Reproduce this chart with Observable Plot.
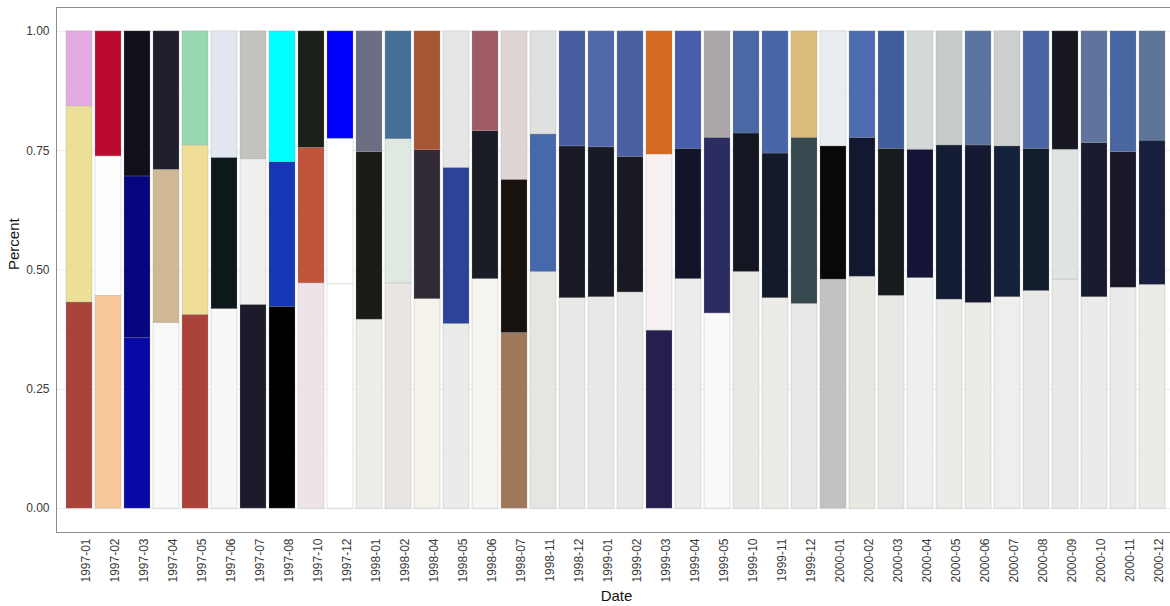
<!DOCTYPE html>
<html>
<head>
<meta charset="utf-8">
<script src="https://cdn.jsdelivr.net/npm/d3@7"></script>
<script src="https://cdn.jsdelivr.net/npm/@observablehq/plot@0.6"></script>
<style>
  html, body { margin: 0; padding: 0; background: #fff; overflow: hidden; }
  #wrap { width: 1170px; height: 606px; overflow: hidden; }
  #wrap svg { max-width: none !important; display: block; }
</style>
</head>
<body>
<div id="wrap"></div>
<script>
const dates = ["1997-01","1997-02","1997-03","1997-04","1997-05","1997-06","1997-07","1997-08","1997-10","1997-12",
  "1998-01","1998-02","1998-04","1998-05","1998-06","1998-07","1998-11","1998-12",
  "1999-01","1999-02","1999-03","1999-04","1999-05","1999-10","1999-11","1999-12",
  "2000-01","2000-02","2000-03","2000-04","2000-05","2000-06","2000-07","2000-08","2000-09","2000-10","2000-11","2000-12"];

const bottomShare = [.432,.446,.357,.389,.406,.418,.427,.423,.472,.470,
  .396,.472,.439,.387,.481,.368,.496,.441,
  .443,.453,.373,.481,.409,.496,.441,.429,
  .480,.486,.446,.483,.438,.431,.443,.456,.480,.443,.463,.469];
const middleShare = [.411,.292,.339,.321,.355,.317,.305,.303,.284,.305,
  .351,.302,.312,.327,.310,.321,.288,.318,
  .314,.284,.369,.273,.368,.290,.303,.348,
  .279,.291,.308,.269,.323,.330,.316,.298,.272,.323,.284,.302];
const topShare = [.157,.262,.304,.290,.239,.265,.268,.274,.244,.225,
  .253,.226,.249,.286,.209,.311,.216,.241,
  .243,.263,.258,.246,.223,.214,.256,.223,
  .241,.223,.246,.248,.239,.239,.241,.246,.248,.234,.253,.229];

const bottomColor = ["#ab433b","#f8c89b","#0808a4","#f8f9f9","#ab433b","#f7f7f6","#1b1b2b","#000000","#ede3e8","#ffffff",
  "#efedea","#e9e5e3","#f5f2ec","#ebebea","#f6f5f2","#a0785b","#e5e5e1","#e9e9e8",
  "#e8e8e8","#e8e8e7","#251f4e","#ececec","#f9f9f9","#e8e9e4","#ebebe8","#e7e8e9",
  "#c2c2c2","#e9e7e1","#e8e8e4","#eef0ef","#ecebe8","#ecebe8","#eeeeed","#e9e9e7","#e8e8e6","#ecebe9","#ecebea","#ebebe8"];
const middleColor = ["#ecdf98","#fdfdfd","#05057f","#cfb893","#f0de98","#0c181c","#efefed","#1636b5","#c0553c","#ffffff",
  "#1c1b17","#e0e8e2","#322a35","#2b4499","#1a1c26","#18120f","#4769ac","#1a1a26",
  "#191a28","#191923","#f7f1f1","#13142b","#2b2d62","#141722","#131a2a","#35494f",
  "#080808","#111830","#161c1e","#141438","#141d33","#151a32","#15223b","#141d2e","#e0e4e0","#191b30","#1b1728","#18203e"];
const topColor = ["#e2aae0","#bb0a30","#100f1a","#221e2e","#96d8b0","#e1e8f2","#c3c3bd","#00ffff","#1b201b","#0000ff",
  "#6c6e84","#466e96","#a75634","#e6e6e6","#9f5c66","#ded5d4","#dfe1e1","#4a5da2",
  "#5169aa","#4c5fa3","#d56b21","#465eab","#aca7ab","#4a69a4","#4866a8","#dabb7a",
  "#e9ecf0","#4e6db0","#405e9d","#d3d9d9","#c7cbcb","#5c75a0","#cdcfcf","#4a66a2","#171722","#5e749d","#4866a1","#5e7499"];

const yTicks = [0, 0.25, 0.5, 0.75, 1];
const yMinor = [0.125, 0.375, 0.625, 0.875];

const rows = [];
dates.forEach((d, i) => {
  rows.push({date: d, seg: "bottom", value: bottomShare[i], color: bottomColor[i]});
  rows.push({date: d, seg: "middle", value: middleShare[i], color: middleColor[i]});
  rows.push({date: d, seg: "top", value: topShare[i], color: topColor[i]});
});

const chart = Plot.plot({
  width: 1186,
  height: 606,
  marginLeft: 56,
  marginRight: 10,
  marginTop: 7,
  marginBottom: 74,
  style: {fontFamily: "'Liberation Sans', Arial, sans-serif", background: "#fff", maxWidth: "none"},
  x: {type: "band", domain: dates, paddingInner: 0.1, paddingOuter: 0.15, axis: null},
  y: {domain: [-0.05, 1.05], axis: null},
  color: {type: "identity"},
  marks: [
    Plot.gridY(yMinor, {stroke: "#f3f3f3", strokeOpacity: 1, strokeWidth: 0.6}),
    Plot.gridY(yTicks, {stroke: "#ebebeb", strokeOpacity: 1, strokeWidth: 1}),
    Plot.barY(rows, {x: "date", y: "value", fill: "color", stroke: "#999", strokeOpacity: 0.45, strokeWidth: 0.6}),
    Plot.frame({stroke: "#8c8c8c", strokeWidth: 1}),
    Plot.axisY(yTicks, {tickSize: 0, tickPadding: 7, tickFormat: d3.format(".2f"), fontSize: 12, fill: "#3a3a3a", label: null}),
    Plot.text(dates, {x: d => d, frameAnchor: "bottom", rotate: -90, textAnchor: "end", lineAnchor: "top",
      dy: 6, dx: 2, fontSize: 12, fill: "#3a3a3a"}),
    Plot.text(["Percent"], {frameAnchor: "left", dx: -42, rotate: -90, fontSize: 15, fill: "#111"}),
    Plot.text(["Date"], {frameAnchor: "bottom", dy: 68, fontSize: 15, fill: "#111"})
  ]
});
chart.style.maxWidth = "none";
chart.style.width = "1186px";
chart.style.height = "606px";

document.getElementById("wrap").appendChild(chart);
</script>
</body>
</html>
